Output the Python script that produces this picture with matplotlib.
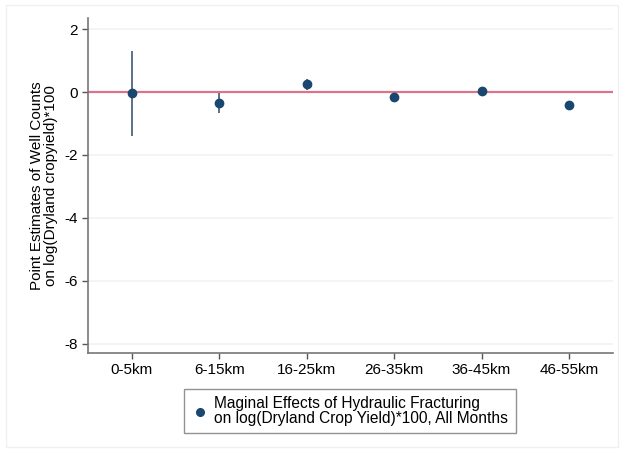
import numpy as np
import matplotlib
matplotlib.use('Agg')
import matplotlib.pyplot as plt
from matplotlib.patches import Rectangle
from matplotlib.lines import Line2D

plt.rcParams['font.family'] = ['Liberation Sans', 'DejaVu Sans']
plt.rcParams['axes.unicode_minus'] = False

# Данные
categories = ['0-5km', '6-15km', '16-25km', '26-35km', '36-45km', '46-55km']
estimates = [-0.03, -0.34, 0.24, -0.15, 0.04, -0.40]
ci_low = [-1.40, -0.66, 0.08, -0.25, -0.05, -0.50]
ci_high = [1.30, -0.02, 0.40, -0.05, 0.13, -0.30]
legend_label = 'Maginal Effects of Hydraulic Fracturing\non log(Dryland Crop Yield)*100, All Months'

x = np.arange(1, len(categories) + 1)
est = np.array(estimates)
err = [est - np.array(ci_low), np.array(ci_high) - est]

fig = plt.figure(figsize=(6.21, 4.54), dpi=100)
fig.patch.set_facecolor('white')
fig.patches.append(Rectangle((0.01, 0.015), 0.985, 0.975, transform=fig.transFigure,
                             facecolor='none', edgecolor='#f0f0f0', lw=1))
ax = fig.add_axes([0.1417, 0.2225, 0.845, 0.7375])

ax.set_xlim(0.5, 6.5)
ax.set_ylim(-8.3, 2.35)
ax.set_yticks([2, 0, -2, -4, -6, -8])
ax.set_xticks(x)
ax.set_xticklabels(categories)
ax.yaxis.grid(True, color='#f2f2f2', lw=1.2)
ax.set_axisbelow(True)

ax.axhline(0, color='#d9748b', lw=1.6, zorder=2)
ax.errorbar(x, est, yerr=err, fmt='o', color='#1a476f', ecolor='#5b7088',
            elinewidth=1.4, ms=6, capsize=0, zorder=3)

for s in ['top', 'right']:
    ax.spines[s].set_visible(False)
for s in ['left', 'bottom']:
    ax.spines[s].set_color('#777777')
    ax.spines[s].set_linewidth(1.2)
ax.tick_params(colors='#555555', labelcolor='black', labelsize=11, length=4, width=1)

ax.set_ylabel('Point Estimates of Well Counts\non log(Dryland cropyield)*100', fontsize=11,
              linespacing=0.95)
ax.yaxis.set_label_coords(-0.058, 0.5)

handle = Line2D([], [], marker='o', ls='none', color='#1a476f', ms=5.5)
leg = fig.legend([handle], [legend_label], loc='center',
                 bbox_to_anchor=(350 / 621, 1 - 411 / 454), frameon=True,
                 fancybox=False, edgecolor='#777777', fontsize=11.2, handletextpad=0.4,
                 handlelength=1.0, borderpad=0.5, labelspacing=0.2)
leg.get_frame().set_linewidth(1.0)
for t in leg.get_texts():
    t.set_linespacing(0.95)

fig.savefig('out.png', dpi=100)
